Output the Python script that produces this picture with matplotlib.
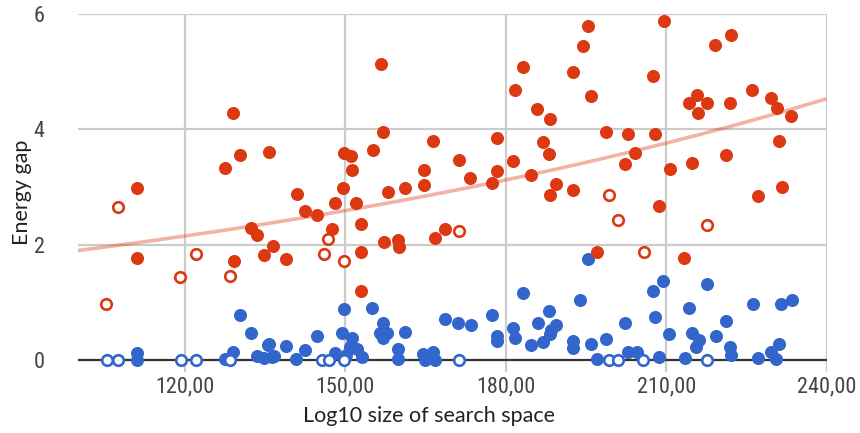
import numpy as np
import matplotlib
matplotlib.use("Agg")
import matplotlib.pyplot as plt

# Solved instances: (log10 search-space size, energy gap)
red_x = [111.1, 111.0, 129.0, 130.3, 127.5, 135.7, 140.9, 142.5, 144.6, 148.1,
         149.6, 152.0, 132.4, 133.4, 129.2, 134.7, 136.5, 138.8, 147.5, 153.0,
         149.8, 151.1, 151.3, 155.1, 156.7, 157.1, 157.9, 161.2, 164.7, 164.7,
         166.3, 171.3, 173.3, 177.5, 178.4, 178.4, 181.4, 181.7, 183.3, 184.7,
         185.9, 188.3, 187.0, 188.1, 189.4, 188.3, 192.5, 192.5, 194.4, 195.4,
         195.9, 209.5, 207.5, 198.7, 202.9, 207.8, 204.2, 202.3, 210.7, 214.8,
         221.1, 208.7, 219.2, 222.1, 214.3, 215.7, 217.6, 216.0, 221.9, 226.1,
         229.6, 230.7, 233.3, 231.0, 231.6, 227.2, 197.1, 213.4, 152.9, 152.9,
         157.2, 159.9, 160.1, 166.8, 168.7]
red_y = [2.99, 1.77, 4.28, 3.56, 3.34, 3.61, 2.89, 2.59, 2.52, 2.72,
         2.98, 2.73, 2.29, 2.18, 1.72, 1.82, 1.98, 1.76, 2.28, 2.36,
         3.60, 3.54, 3.29, 3.65, 5.14, 3.96, 2.91, 2.99, 3.29, 3.04,
         3.80, 3.47, 3.16, 3.08, 3.28, 3.86, 3.46, 4.69, 5.08, 3.22,
         4.35, 4.19, 3.79, 3.57, 3.06, 2.86, 5.00, 2.96, 5.45, 5.79,
         4.58, 5.87, 4.93, 3.96, 3.93, 3.93, 3.60, 3.41, 3.31, 3.42,
         3.55, 2.67, 5.47, 5.64, 4.46, 4.60, 4.46, 4.29, 4.45, 4.68,
         4.54, 4.38, 4.23, 3.80, 3.01, 2.84, 1.87, 1.78, 1.87, 1.21,
         2.05, 2.09, 1.97, 2.12, 2.28]

# Unsolved instances (hollow markers)
red_open_x = [105.3, 107.4, 119.1, 122.1, 128.4, 146.7, 146.0, 149.8, 171.3,
              199.2, 200.9, 205.8, 217.6]
red_open_y = [0.98, 2.66, 1.44, 1.85, 1.46, 2.11, 1.84, 1.72, 2.24,
              2.86, 2.43, 1.88, 2.34]

blue_x = [111.0, 111.0, 127.4, 129.0, 130.2, 132.4, 133.4, 134.7, 135.6, 136.2,
          135.7, 136.7, 138.8, 140.8, 142.5, 144.6, 148.1, 149.4, 149.8, 150.2,
          151.3, 150.9, 152.1, 153.1, 155.0, 157.0, 156.5, 157.7, 157.1, 159.9,
          159.9, 161.2, 164.6, 166.4, 164.8, 166.8, 168.6, 171.1, 173.4, 177.5,
          178.4, 178.4, 181.4, 181.7, 183.3, 184.7, 186.0, 187.0, 188.1, 189.4,
          188.5, 188.2, 192.5, 192.5, 193.9, 195.4, 195.9, 197.1, 198.7, 202.3,
          202.9, 204.5, 207.5, 209.4, 207.8, 208.7, 210.6, 213.5, 214.3, 214.8,
          216.1, 215.6, 217.6, 219.3, 221.1, 221.9, 222.1, 226.2, 227.2, 229.5,
          231.1, 230.6, 231.4, 233.5]
blue_y = [0.13, 0.01, 0.02, 0.15, 0.79, 0.47, 0.08, 0.05, 0.27, 0.06,
          0.28, 0.07, 0.25, 0.03, 0.18, 0.42, 0.13, 0.48, 0.89, 0.09,
          0.39, 0.24, 0.20, 0.06, 0.91, 0.65, 0.47, 0.47, 0.38, 0.19,
          0.03, 0.50, 0.12, 0.14, 0.01, 0.01, 0.71, 0.65, 0.62, 0.79,
          0.43, 0.34, 0.57, 0.38, 1.16, 0.26, 0.65, 0.32, 0.85, 0.61,
          0.53, 0.45, 0.34, 0.22, 1.05, 1.75, 0.28, 0.03, 0.37, 0.64,
          0.14, 0.14, 1.20, 1.38, 0.75, 0.06, 0.45, 0.05, 0.90, 0.48,
          0.35, 0.23, 1.32, 0.42, 0.68, 0.24, 0.10, 0.97, 0.05, 0.15,
          0.29, 0.03, 0.97, 1.05]

blue_open_x = [105.4, 107.4, 119.2, 122.1, 128.4, 145.6, 146.9, 149.8, 171.3,
               199.2, 200.9, 205.7, 217.6]
blue_open_y = [0.0] * len(blue_open_x)

x_ticks = [120, 150, 180, 210, 240]
x_tick_labels = ["120,00", "150,00", "180,00", "210,00", "240,00"]
y_ticks = [0, 2, 4, 6]
y_tick_labels = ["0", "2", "4", "6"]

RED = "#DC3912"
BLUE = "#3366CC"

fig = plt.figure(figsize=(8.6, 4.33), dpi=100)
ax = fig.add_axes([0.0907, 0.1409, 0.8706, 0.8268])
ax.set_xlim(100, 240)
ax.set_ylim(-0.2, 6)

for s in ax.spines.values():
    s.set_visible(False)

# grid
for xv in x_ticks:
    ax.axvline(xv, color="#CCCCCC", lw=1.6, zorder=0)
for yv in y_ticks[1:]:
    ax.axhline(yv, color="#CCCCCC", lw=1.6, zorder=0)
ax.axhline(0, color="#333333", lw=1.6, zorder=1)

# exponential trend through every red (solved + unsolved) instance
all_rx = np.array(red_x + red_open_x)
all_ry = np.array(red_y + red_open_y)
coef = np.polyfit(all_rx, np.log(all_ry), 1)
tx = np.linspace(100, 240, 200)
ax.plot(tx, np.exp(coef[1]) * np.exp(coef[0] * tx), color=RED, alpha=0.38,
        lw=2.6, zorder=5, solid_capstyle="butt")

ms = 9.4
ax.plot(blue_x, blue_y, "o", ms=ms, color=BLUE, mew=0, zorder=3)
ax.plot(red_x, red_y, "o", ms=ms, color=RED, mew=0, zorder=4)
ax.plot(blue_open_x, blue_open_y, "o", ms=7.6, mfc="white", mec=BLUE, mew=1.9, zorder=6)
ax.plot(red_open_x, red_open_y, "o", ms=7.6, mfc="white", mec=RED, mew=1.9, zorder=6)

tick_font = ["Roboto Condensed", "Archivo Narrow", "DejaVu Sans"]
ax.set_xticks(x_ticks)
ax.set_xticklabels(x_tick_labels, family=tick_font, fontsize=16, color="#444444")
ax.set_yticks(y_ticks)
ax.set_yticklabels(y_tick_labels, family=tick_font, fontsize=16, color="#444444")
ax.tick_params(axis="both", length=0)
ax.tick_params(axis="x", pad=3)
ax.tick_params(axis="y", pad=24)

fig.text(429 / 860, 1 - 416 / 433, "Log10 size of search space", family="Lato",
         fontsize=15.5, color="#222222", ha="center", va="center")
fig.text(22 / 860, 1 - 192 / 433, "Energy gap", family="Lato", fontsize=15.5,
         color="#222222", ha="center", va="center", rotation=90)

fig.savefig("out.png", dpi=100)
